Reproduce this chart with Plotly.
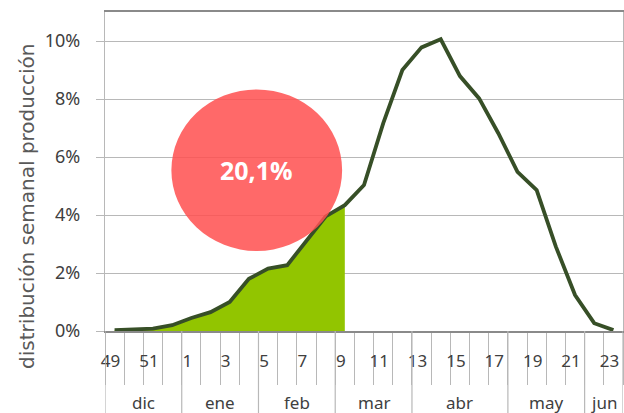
import plotly.graph_objects as go

# ---- data ----
weeks = [49, 50, 51, 52] + list(range(1, 24))
values_pct = [0.03, 0.05, 0.08, 0.20, 0.45, 0.65, 1.00, 1.80, 2.15, 2.27, 3.10, 3.95, 4.34,
              5.03, 7.16, 9.00, 9.78, 10.06, 8.79, 8.02, 6.82, 5.49, 4.86, 2.91, 1.24, 0.27, 0.03]
months = ["dic", "ene", "feb", "mar", "abr", "may", "jun"]
month_week_counts = [4, 4, 4, 4, 5, 4, 2]
fill_until_week = 9
highlight_text = "20,1%"
y_title = "distribución semanal producción"

# ---- derived ----
idx = list(range(len(weeks)))
vals = [v / 100 for v in values_pct]
cut = weeks.index(fill_until_week)

GRID = "#B8B8B8"
TXT = "#404040"
FONT = "Noto Sans"

fig = go.Figure()
fig.add_trace(go.Scatter(x=idx[:cut + 1], y=vals[:cut + 1], mode="lines",
                         fill="tozeroy", fillcolor="#92C500",
                         line=dict(width=0, color="#92C500"), hoverinfo="skip"))
fig.add_trace(go.Scatter(x=idx, y=vals, mode="lines",
                         line=dict(color="#374F27", width=3.8)))

# month boundaries
bounds = [-0.5]
for c in month_week_counts:
    bounds.append(bounds[-1] + c)

shapes = []
for b in bounds:
    shapes.append(dict(type="line", xref="x", yref="paper", x0=b, x1=b, y0=0, y1=-0.27,
                       line=dict(color=GRID, width=1.2), layer="above"))

annotations = []
for i, m in enumerate(months):
    annotations.append(dict(text=m, xref="x", yref="paper", x=(bounds[i] + bounds[i + 1]) / 2,
                            y=-0.2226, yanchor="middle", xanchor="center", showarrow=False,
                            font=dict(family=FONT, size=17, color=TXT)))

# highlight circle
shapes.append(dict(type="circle", xref="x", yref="y", x0=2.96, x1=11.86, y0=0.0276, y1=0.0833,
                   fillcolor="rgba(255,80,80,0.86)", line=dict(width=0), layer="above"))
annotations.append(dict(text="<b>" + highlight_text + "</b>", xref="x", yref="y", x=7.41, y=0.0555,
                        showarrow=False, font=dict(family="Open Sans", size=25, color="white")))
annotations.append(dict(text=y_title, xref="paper", yref="paper", x=0, xshift=-78, y=0.389,
                        textangle=-90, showarrow=False, xanchor="center", yanchor="middle",
                        font=dict(family="DejaVu Sans", size=20, color="#595959")))

week_tickvals = idx[::2]
week_ticktext = [str(w) for w in weeks[::2]]

fig.update_layout(
    width=624, height=413, margin=dict(l=105, r=1, t=12, b=82, autoexpand=False),
    paper_bgcolor="white", plot_bgcolor="white", showlegend=False,
    shapes=shapes, annotations=annotations,
    xaxis=dict(range=[-0.5, len(weeks) - 0.5], tickmode="array", tickvals=week_tickvals,
               ticktext=week_ticktext, ticks="", showgrid=False, zeroline=False, automargin=False,
               showline=True, linecolor="#8A8A8A", linewidth=1.5, mirror=True,
               ticklabelstandoff=14, ticklabelshift=-4,
               tickfont=dict(family=FONT, size=17, color=TXT),
               minor=dict(tickmode="array", tickvals=[i - 0.5 for i in idx] + [len(weeks) - 0.5],
                          ticks="outside", ticklen=52, tickcolor=GRID, tickwidth=1.2, showgrid=False)),
    yaxis=dict(range=[0, 0.11], tickmode="array", tickvals=[0, 0.02, 0.04, 0.06, 0.08, 0.10],
               tickformat=".0%", showgrid=True, gridcolor=GRID, gridwidth=1.2, zeroline=False,
               showline=True, linecolor=GRID, linewidth=1.2, mirror=True, automargin=False,
               ticks="outside", ticklen=8, tickcolor=GRID, tickwidth=1.2, ticklabelstandoff=12,
               tickfont=dict(family=FONT, size=18, color=TXT)),
)

fig.write_html("out.html", config={"displayModeBar": False},
               post_script="document.body.style.margin='0';document.body.style.overflow='hidden';")
